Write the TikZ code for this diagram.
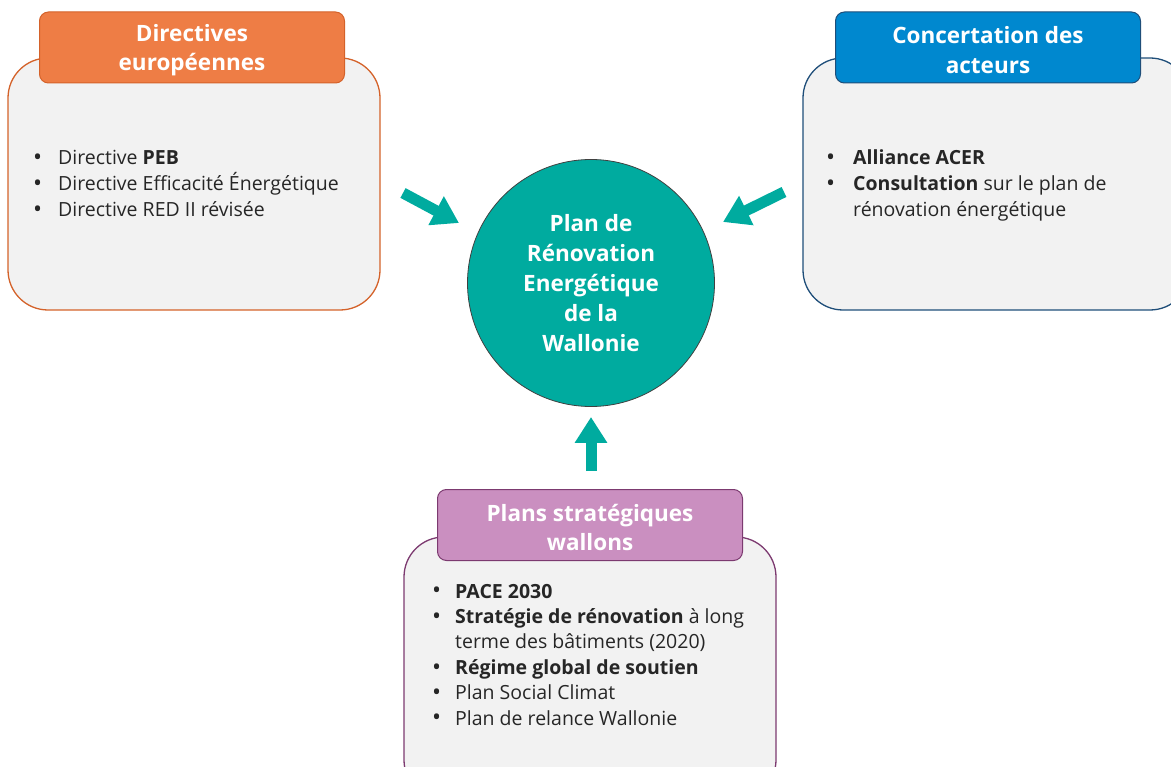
\documentclass[tikz,border=0pt]{standalone}
\usepackage{fontspec}
\setmainfont{Open Sans}
\usetikzlibrary{arrows.meta,positioning}
\definecolor{orangefill}{HTML}{EE7D45}
\definecolor{orangeline}{HTML}{D4622A}
\definecolor{bluefill}{HTML}{0088CF}
\definecolor{blueline}{HTML}{1F4E79}
\definecolor{purplefill}{HTML}{CA8FC0}
\definecolor{purpleline}{HTML}{7C3A70}
\definecolor{planteal}{HTML}{00AB9F}
\definecolor{boxgray}{HTML}{F2F2F2}
\definecolor{ink}{HTML}{262626}
\newcommand{\itembul}{\raisebox{-0.8pt}{\fontsize{24}{26}\selectfont\textbullet}}
\begin{document}
\begin{tikzpicture}[x=1pt,y=-1pt,line join=round]
	\tikzset{panel/.style={draw,line width=1.3pt,fill=boxgray,rounded corners=40pt},
		header/.style={draw,line width=1pt,rounded corners=9pt,minimum width=305pt,minimum height=71pt},
		headtext/.style={text=white,align=center,yshift=-2.5pt,font=\bfseries\fontsize{22.5}{29.5}\selectfont},
		items/.style={anchor=base west,align=left,text=ink,inner sep=0pt},
		flow/.style={line width=11pt,planteal,-{Triangle[width=31pt,length=26pt]}}}
	\useasboundingbox (0,0) rectangle (1171,767);
	\clip (0,0) rectangle (1171,767);
	% panels
	\node[panel,draw=orangeline,minimum width=372pt,minimum height=252pt] (dirbox) at (194,184) {};
	\node[panel,draw=blueline,minimum width=387pt,minimum height=252pt] (actbox) at (996.5,184) {};
	\node[panel,draw=purpleline,minimum width=372pt,minimum height=263pt] (wallbox) at (590,668.5) {};
	% headers
	\node[header,fill=orangefill,draw=orangeline] (dirhead) at (192,47.5) {};
	\node[headtext] (dirtitle) at (dirhead.center) {Directives\\européennes};
	\node[header,fill=bluefill,draw=blueline] (acthead) at (988,47.5) {};
	\node[headtext] (acttitle) at (acthead.center) {Concertation des\\acteurs};
	\node[header,fill=purplefill,draw=purpleline] (wallhead) at (590,525) {};
	\node[headtext] (walltitle) at (wallhead.center) {Plans stratégiques\\wallons};
	% lists
	\node[items] (dirlist) at (33,165) {\fontsize{19.5}{26}\selectfont
		\begin{tabular}[t]{@{}p{25pt}@{}l@{}}
			\itembul & Directive \textbf{PEB}\\
			\itembul & Directive Efficacité Énergétique\\
			\itembul & Directive RED II révisée
		\end{tabular}};
	\node[items] (actlist) at (826,165) {\fontsize{19.5}{26}\selectfont
		\begin{tabular}[t]{@{}p{27pt}@{}l@{}}
			\itembul & \textbf{Alliance ACER}\\
			\itembul & \textbf{Consultation} sur le plan de\\
			& rénovation énergétique
		\end{tabular}};
	\node[items] (walllist) at (432,598) {\fontsize{19.5}{25.4}\selectfont
		\begin{tabular}[t]{@{}p{23pt}@{}l@{}}
			\itembul & \textbf{PACE 2030}\\
			\itembul & \textbf{Stratégie de rénovation} à long\\
			& terme des bâtiments (2020)\\
			\itembul & \textbf{Régime global de soutien}\\
			\itembul & Plan Social Climat\\
			\itembul & Plan de relance Wallonie
		\end{tabular}};
	% centre
	\node[circle,fill=planteal,draw=black!75,line width=0.8pt,minimum size=247pt,text=white,
		align=center,font=\bfseries\fontsize{22.5}{30}\selectfont] (plan) at (591,283)
		{Plan de\\Rénovation\\Energétique\\de la\\Wallonie};
	% arrows
	\coordinate (dirtail) at (403,193);
	\coordinate (dirtip) at (459,223);
	\coordinate (acttail) at (784,192);
	\coordinate (acttip) at (723,222);
	\coordinate (walltail) at (591,471);
	\coordinate (walltip) at (591,417);
	\draw[flow] (dirtail) -- (dirtip);
	\draw[flow] (acttail) -- (acttip);
	\draw[flow] (walltail) -- (walltip);
\end{tikzpicture}
\end{document}
